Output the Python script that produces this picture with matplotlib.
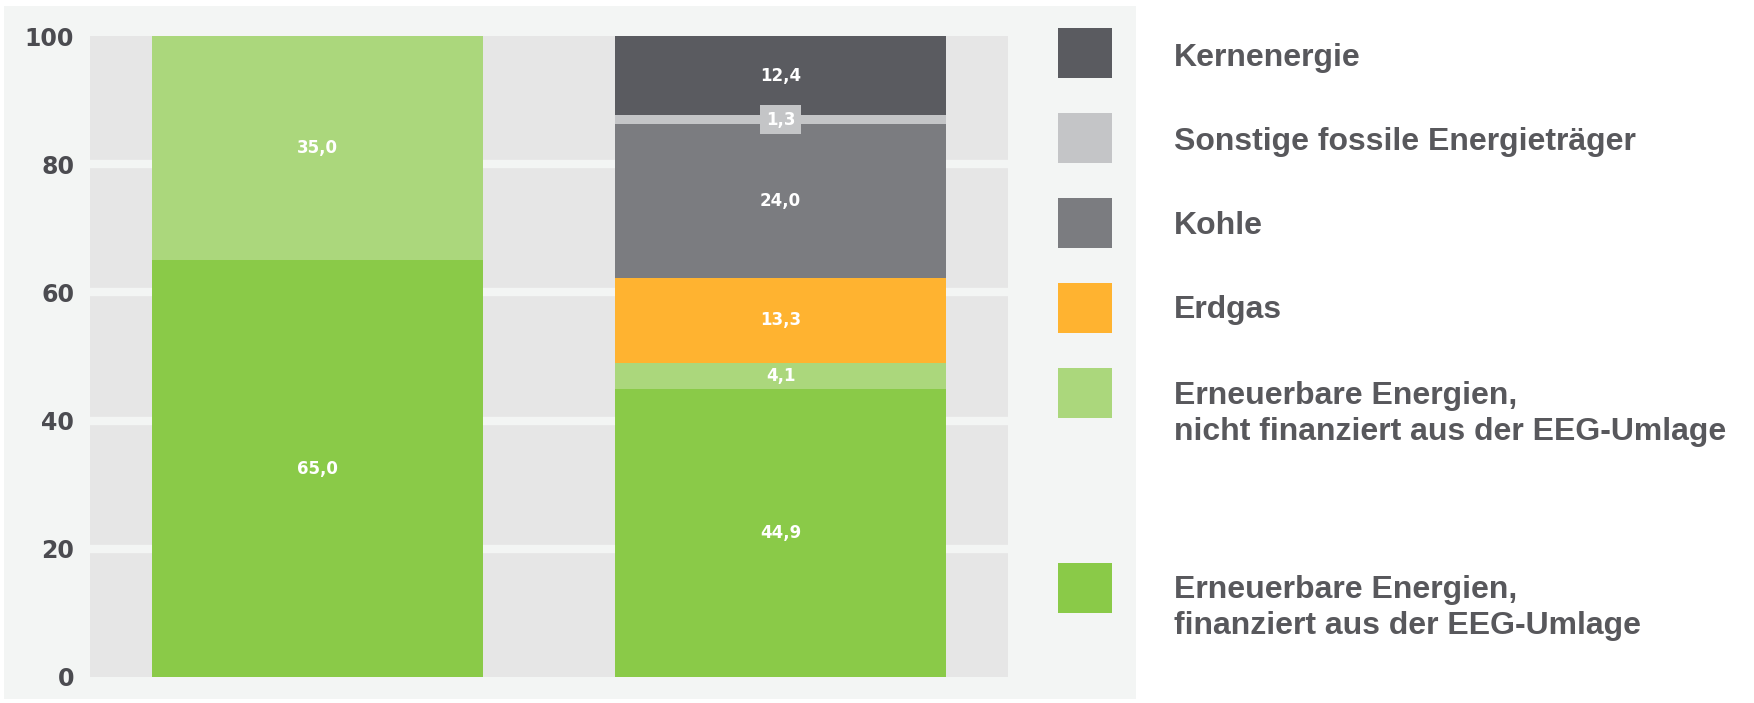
import matplotlib
matplotlib.use("Agg")
import matplotlib.pyplot as plt
from matplotlib.patches import Rectangle
import numpy as np

# Data: share in percent, two stacked bars (bottom to top)
bars = ["Ziel", "Ist"]
ee_finanziert = [65.0, 44.9]
ee_nicht_finanziert = [35.0, 4.1]
erdgas = [0.0, 13.3]
kohle = [0.0, 24.0]
sonstige_fossil = [0.0, 1.3]
kernenergie = [0.0, 12.4]

series_names = [
    "Erneuerbare Energien,\nfinanziert aus der EEG-Umlage",
    "Erneuerbare Energien,\nnicht finanziert aus der EEG-Umlage",
    "Erdgas",
    "Kohle",
    "Sonstige fossile Energieträger",
    "Kernenergie",
]
series_values = [ee_finanziert, ee_nicht_finanziert, erdgas, kohle,
                 sonstige_fossil, kernenergie]
colors = ["#8aca48", "#abd77c", "#ffb330", "#7b7c80", "#c4c5c7", "#5a5b60"]
yticks = [0, 20, 40, 60, 80, 100]

W, H = 1754, 703
fig = plt.figure(figsize=(W / 100, H / 100), dpi=100)
fig.patch.set_facecolor("white")

# light panel behind the plot area
panel_col = "#f3f5f4"
fig.add_artist(Rectangle((4 / W, 4 / H), (1136 - 4) / W, (697 - 4) / H,
                         transform=fig.transFigure, facecolor=panel_col,
                         edgecolor="none", zorder=0))

ax = fig.add_axes([89.5 / W, 1 - 677 / H, (1008 - 89.5) / W, (677 - 36) / H])
ax.set_facecolor("#e6e6e6")
ax.set_zorder(1)

x = np.arange(len(bars))
width = 0.715
bottom = np.zeros(len(bars))
for vals, col in zip(series_values, colors):
    vals = np.array(vals)
    ax.bar(x, vals, width, bottom=bottom, color=col, edgecolor="none", zorder=3)
    for xi, v, b in zip(x, vals, bottom):
        if v <= 0:
            continue
        txt = f"{v:.1f}".replace(".", ",")
        if v < 2:
            # thin segment: label sits on a small box in the segment colour
            ax.text(xi, b + v / 2, txt, ha="center", va="center", color="white",
                    fontsize=12, fontweight="bold", zorder=5,
                    bbox=dict(boxstyle="square,pad=0.35", facecolor=col,
                              edgecolor="none"))
        else:
            ax.text(xi, b + v / 2, txt, ha="center", va="center", color="white",
                    fontsize=12, fontweight="bold", zorder=5)
    bottom += vals

# panel-coloured grid lines behind bars
for yv in [20, 40, 60, 80]:
    ax.axhline(yv, color=panel_col, linewidth=6, zorder=1)

ax.set_xlim(-0.492, 1.491)
ax.set_ylim(0, 100)
ax.set_yticks(yticks)
ax.set_yticklabels([str(t) for t in yticks], fontsize=17, fontweight="bold",
                   color="#4b4b50")
ax.tick_params(axis="y", length=0, pad=11)
ax.set_xticks([])
for s in ax.spines.values():
    s.set_visible(False)

# legend drawn by hand (uneven spacing as in the original)
leg_order = [5, 4, 3, 2, 1, 0]
sq_tops = [28, 113, 198, 283, 368, 563]
text_y = [58, 142, 226, 310, 414, 608]
for idx, top, ty in zip(leg_order, sq_tops, text_y):
    fig.add_artist(Rectangle((1058 / W, 1 - (top + 50) / H), 54 / W, 50 / H,
                             transform=fig.transFigure, facecolor=colors[idx],
                             edgecolor="none", zorder=2))
    fig.text(1174 / W, 1 - ty / H, series_names[idx], ha="left", va="center",
             fontsize=23, fontweight="bold", color="#58585c",
             family="Liberation Sans", linespacing=1.22)

fig.savefig("out.png", dpi=100, facecolor="white")
